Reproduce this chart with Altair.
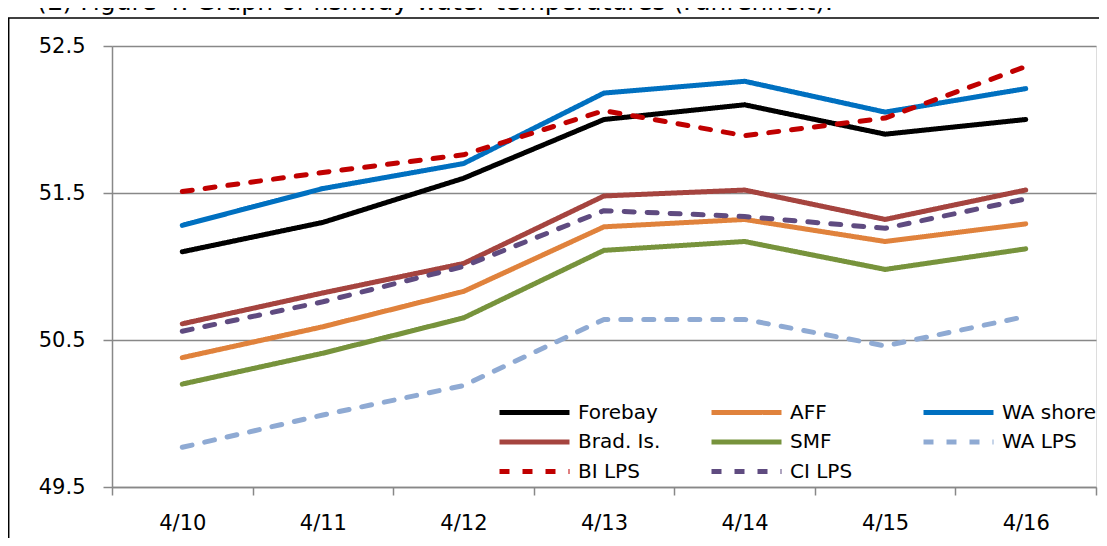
import altair as alt
import pandas as pd

dates = ["4/10", "4/11", "4/12", "4/13", "4/14", "4/15", "4/16"]
series = ["Forebay", "AFF", "WA shore", "Brad. Is.", "SMF", "WA LPS", "BI LPS", "CI LPS"]

forebay = [51.10, 51.30, 51.60, 52.00, 52.10, 51.90, 52.00]
aff = [50.38, 50.59, 50.83, 51.27, 51.32, 51.17, 51.29]
wa_shore = [51.28, 51.53, 51.70, 52.18, 52.26, 52.05, 52.21]
brad_is = [50.61, 50.82, 51.02, 51.48, 51.52, 51.32, 51.52]
smf = [50.20, 50.41, 50.65, 51.11, 51.17, 50.98, 51.12]
wa_lps = [49.77, 49.99, 50.19, 50.64, 50.64, 50.46, 50.66]
bi_lps = [51.51, 51.64, 51.76, 52.06, 51.89, 52.01, 52.36]
ci_lps = [50.56, 50.76, 51.00, 51.38, 51.34, 51.26, 51.46]

colors = ["#000000", "#E0823C", "#0070C0", "#A5443F", "#77933C", "#8FAAD3", "#C00000", "#5F4B80"]
dashes = [[1, 0], [1, 0], [1, 0], [1, 0], [1, 0], [10, 13], [10, 13], [10, 13]]

title_text = "(E) Figure 4. Graph of fishway water temperatures (Fahrenheit)."
y_ticks = [49.5, 50.5, 51.5, 52.5]

values = [forebay, aff, wa_shore, brad_is, smf, wa_lps, bi_lps, ci_lps]
rows = []
for name, vals in zip(series, values):
    for d, v in zip(dates, vals):
        rows.append({"date": d, "series": name, "temp": v})
df = pd.DataFrame(rows)

FONT = "DejaVu Sans"
W, H = 984, 441

legend = alt.Legend(
    title=None, orient="none", legendX=385, legendY=354, columns=3,
    direction="horizontal",
    symbolType="stroke", symbolSize=4900, symbolStrokeWidth=5,
    clipHeight=25, labelFont=FONT, labelFontSize=20, labelColor="#000000",
    labelOffset=6, columnPadding=36, rowPadding=4.5, gridAlign="all",
    labelLimit=300,
)

lines = alt.Chart(df).mark_line(strokeWidth=5, strokeCap="round", strokeJoin="round").encode(
    x=alt.X("date:N", sort=dates, title=None,
            scale=alt.Scale(paddingInner=0, paddingOuter=0),
            axis=alt.Axis(labelAngle=0, tickBand="extent", tickSize=8, labelPadding=17,
                          labelFont=FONT, labelFontSize=21, labelColor="#000000",
                          domainColor="#888888", tickColor="#888888", domainWidth=1.5,
                          tickWidth=1.5, grid=False)),
    y=alt.Y("temp:Q", title=None,
            scale=alt.Scale(domain=[49.5, 52.5], nice=False, zero=False),
            axis=alt.Axis(values=y_ticks, format=".1f", tickSize=9, labelPadding=18,
                          labelFont=FONT, labelFontSize=21, labelColor="#000000",
                          domainColor="#888888", tickColor="#888888", domainWidth=1.5,
                          tickWidth=1.5, grid=True, gridColor="#888888", gridWidth=1.5)),
    color=alt.Color("series:N", sort=series,
                    scale=alt.Scale(domain=series, range=colors), legend=legend),
    strokeDash=alt.StrokeDash("series:N", sort=series,
                              scale=alt.Scale(domain=series, range=dashes), legend=legend),
)

frame_src = alt.Data(values=[{"k": 1}])
top_line = alt.Chart(frame_src).mark_rule(color="#000000", strokeWidth=1.5).encode(
    x=alt.value(-104), x2=alt.value(W + 3), y=alt.value(-28)
)
left_line = alt.Chart(frame_src).mark_rule(color="#000000", strokeWidth=1.5).encode(
    x=alt.value(-103.3), y=alt.value(-28), y2=alt.value(H + 51)
)
title_mark = alt.Chart(alt.Data(values=[{"t": title_text}])).mark_text(
    font=FONT, fontSize=25, align="left", baseline="alphabetic", color="#000000"
).encode(x=alt.value(-75), y=alt.value(-36), text="t:N")

chart = alt.layer(lines, top_line, left_line, title_mark).properties(
    width=W, height=H,
    padding={"left": 104, "top": 38, "right": 3, "bottom": 51},
    autosize=alt.AutoSizeParams(type="none"),
).configure_view(stroke=None).configure(background="#ffffff")

chart.save("out.html", embed_options={"renderer": "svg", "actions": False})
